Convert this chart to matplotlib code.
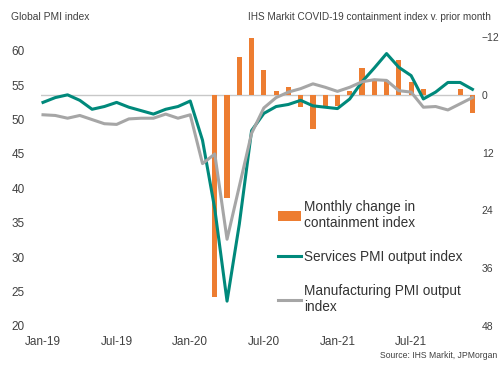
import numpy as np
import matplotlib.pyplot as plt

plt.rcParams['font.family'] = ['Liberation Sans', 'DejaVu Sans']

# months since Jan-19
months = np.arange(36)
tick_pos = [0, 6, 12, 18, 24, 30]
tick_labels = ["Jan-19", "Jul-19", "Jan-20", "Jul-20", "Jan-21", "Jul-21"]

services = [52.5, 53.2, 53.6, 52.8, 51.5, 51.9, 52.5, 51.8, 51.3, 50.8, 51.5, 51.9,
            52.7, 47.0, 37.0, 23.6, 34.8, 48.4, 50.9, 51.9, 52.2, 52.8, 52.0, 51.8,
            51.6, 53.0, 55.5, 57.5, 59.6, 57.6, 56.4, 53.0, 54.0, 55.4, 55.4, 54.4]

manufacturing = [50.7, 50.6, 50.2, 50.6, 50.0, 49.4, 49.3, 50.1, 50.2, 50.2, 50.8, 50.2,
                 50.7, 43.6, 45.0, 32.6, 40.3, 48.0, 51.7, 53.2, 54.0, 54.5, 55.2, 54.7,
                 54.1, 54.7, 55.5, 55.8, 55.7, 54.2, 54.0, 51.8, 51.9, 51.4, 52.3, 53.2]

# containment index change v. prior month, Mar-20 .. Dec-21
bar_months = np.arange(14, 36)
containment_change = [41.9, 21.5, -7.8, -11.8, -5.2, -0.9, -1.6, 2.5, 7.2, 2.3,
                      2.3, -0.8, -5.6, -2.9, -3.1, -7.2, -2.7, -1.3, 0.0, 0.0,
                      -1.3, 3.8]

orange = "#ED7D31"
green = "#00897B"
grey = "#A6A6A6"
text_col = "#404040"

fig = plt.figure(figsize=(5.02, 3.67), dpi=100)
ax = fig.add_axes([0.082, 0.112, 0.864, 0.787])
ax2 = ax.twinx()

ax2.bar(bar_months, containment_change, width=0.42, color=orange, zorder=1,
        label="Monthly change in\ncontainment index")
ax2.axhline(0, color="#C8C8C8", lw=1.0, zorder=0)
ax2.set_ylim(48, -12)
ax2.set_yticks([-12, 0, 12, 24, 36, 48])

ax.set_zorder(ax2.get_zorder() + 1)
ax.patch.set_visible(False)
ax.plot(months, services, color=green, lw=2.2, label="Services PMI output index")
ax.plot(months, manufacturing, color=grey, lw=2.2,
        label="Manufacturing PMI output\nindex")
ax.set_ylim(20, 62)
ax.set_yticks(range(20, 61, 5))
ax.set_xlim(-0.15, 35.2)
ax.set_xticks(tick_pos)
ax.set_xticklabels(tick_labels)

for a in (ax, ax2):
    for s in a.spines.values():
        s.set_visible(False)
    a.tick_params(length=0, colors=text_col, labelsize=8.5)
ax.tick_params(axis="y", pad=12)
ax2.tick_params(axis="y", pad=5, labelsize=7.5)
ax.tick_params(axis="x", pad=7)

handles = ax2.get_legend_handles_labels()[0] + ax.get_legend_handles_labels()[0]
labels = ax2.get_legend_handles_labels()[1] + ax.get_legend_handles_labels()[1]
leg = fig.legend(handles, labels, loc="upper left", bbox_to_anchor=(0.553, 0.455),
                 frameon=False, fontsize=9.8, labelspacing=1.45, handlelength=1.75,
                 handletextpad=0.2, borderaxespad=0, borderpad=0)
for t in leg.get_texts():
    t.set_color("#333333")

fig.text(0.022, 0.955, "Global PMI index", fontsize=7.4, color=text_col, va="center")
fig.text(0.494, 0.955, "IHS Markit COVID-19 containment index v. prior month",
         fontsize=7.2, color=text_col, va="center")
fig.text(0.757, 0.03, "Source: IHS Markit, JPMorgan", fontsize=6.2, color=text_col,
         va="center")

fig.savefig("out.png", dpi=100)
